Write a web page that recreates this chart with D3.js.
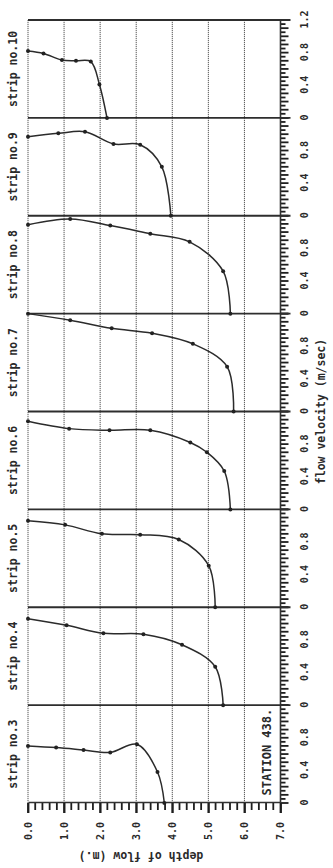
<!DOCTYPE html>
<html lang="en">
<head>
<meta charset="UTF-8">
<title>Velocity profiles - station 438</title>
<script src="https://d3js.org/d3.v7.min.js"></script>
<style>
  body { margin: 0; background: #fff; }
  text { font-family: "DejaVu Sans Mono", monospace; font-weight: bold; fill: #2a2a2a; }
</style>
</head>
<body>
<svg width="333" height="868"></svg>
<script>
// strips, left to right in the unrotated chart
const strips = ["strip no.3", "strip no.4", "strip no.5", "strip no.6",
                "strip no.7", "strip no.8", "strip no.9", "strip no.10"];

// [depth (m), velocity (m/sec)]
const strip3  = [[0, 0.70], [0.78, 0.68], [1.54, 0.65], [2.28, 0.62], [3.02, 0.72], [3.59, 0.38], [3.78, 0]];
const strip4  = [[0, 1.06], [1.07, 0.98], [2.09, 0.88], [3.20, 0.87], [4.27, 0.74], [5.19, 0.47], [5.41, 0]];
const strip5  = [[0, 1.06], [1.03, 1.01], [2.05, 0.90], [3.11, 0.89], [4.18, 0.83], [5.01, 0.51], [5.19, 0]];
const strip6  = [[0, 1.08], [1.14, 0.99], [2.26, 0.97], [3.39, 0.97], [4.50, 0.82], [4.96, 0.70], [5.44, 0.47], [5.61, 0]];
const strip7  = [[0, 1.20], [1.17, 1.12], [2.32, 1.02], [3.44, 0.96], [4.57, 0.83], [5.52, 0.55], [5.70, 0]];
const strip8  = [[0, 1.09], [1.17, 1.16], [2.28, 1.08], [3.39, 0.98], [4.48, 0.88], [5.41, 0.52], [5.61, 0]];
const strip9  = [[0, 0.97], [0.84, 1.01], [1.58, 1.03], [2.37, 0.88], [3.11, 0.87], [3.71, 0.60], [3.96, 0]];
const strip10 = [[0, 0.82], [0.43, 0.79], [0.94, 0.71], [1.33, 0.70], [1.74, 0.69], [1.98, 0.41], [2.19, 0]];
const profiles = [strip3, strip4, strip5, strip6, strip7, strip8, strip9, strip10];

const depthTicks = [0, 1, 2, 3, 4, 5, 6, 7];
const depthMinor = d3.range(0, 7.01, 0.2);
const velTicks = [0, 0.4, 0.8];
const velMinor = d3.range(0, 1.2001, 0.05);
const velMax = 1.2;

const svg = d3.select("svg");

// the scan is a landscape page turned on its side:
// draw it upright (868 x 333) and turn the group
const g = svg.append("g").attr("transform", "translate(0,868) rotate(-90)");

const plotLeft = 65, plotRight = 848, plotTop = 28, plotBottom = 280.5;

const depth = d3.scaleLinear().domain([0, 7]).range([plotTop, plotBottom]);
const band = d3.scaleBand().domain(strips).range([plotLeft, plotRight]).padding(0);
const bw = band.bandwidth();

// dotted depth grid lines (0..6)
g.selectAll("line.grid")
  .data(depthTicks.slice(0, 7))
  .enter().append("line")
  .attr("class", "grid")
  .attr("x1", plotLeft).attr("x2", plotRight)
  .attr("y1", d => depth(d)).attr("y2", d => depth(d))
  .style("stroke", "#555")
  .style("stroke-width", 1)
  .style("stroke-dasharray", "1.2,0.8");

// depth ticks every 0.2 m, longer at whole metres
g.selectAll("line.dtick")
  .data(depthMinor)
  .enter().append("line")
  .attr("class", "dtick")
  .attr("x1", plotLeft)
  .attr("x2", d => Math.abs(d - Math.round(d)) < 1e-6 ? plotLeft - 10 : plotLeft - 7)
  .attr("y1", d => depth(d)).attr("y2", d => depth(d))
  .style("stroke", "#1e1e1e")
  .style("stroke-width", 1.8);

// depth tick labels
g.append("g")
  .attr("transform", `translate(${plotLeft},0)`)
  .call(d3.axisLeft(depth).tickValues(depthTicks).tickSize(10).tickPadding(9)
    .tickFormat(d3.format(".1f")).tickSizeOuter(0))
  .call(a => {
    a.select(".domain").style("stroke", "#333").style("stroke-width", 1.6);
    a.selectAll(".tick line").style("stroke", "#1e1e1e").style("stroke-width", 1.8);
    a.selectAll("text").style("font-size", "10px").attr("font-family", null);
  });

// velocity axis for each strip
strips.forEach((s, i) => {
  const x0 = band(s);
  const vel = d3.scaleLinear().domain([0, velMax]).range([x0, x0 + bw]);

  g.selectAll(null)
    .data(velMinor)
    .enter().append("line")
    .attr("x1", d => vel(d)).attr("x2", d => vel(d))
    .attr("y1", plotBottom)
    .attr("y2", d => Math.round(d * 100) % 10 === 0 ? plotBottom + 8 : plotBottom + 5)
    .style("stroke", "#1e1e1e")
    .style("stroke-width", 1.8);

  const labels = i === strips.length - 1 ? velTicks.concat([velMax]) : velTicks;
  g.append("g")
    .attr("transform", `translate(0,${plotBottom})`)
    .call(d3.axisBottom(vel).tickValues(labels).tickSize(0).tickPadding(20)
      .tickFormat(d => d === 0 ? "0" : d3.format(".1f")(d)))
    .call(a => {
      a.select(".domain").remove();
      a.selectAll("text").style("font-size", "10px").attr("font-family", null);
    });

  // strip title
  g.append("text")
    .attr("x", x0 + bw / 2)
    .attr("y", 17)
    .attr("text-anchor", "middle")
    .style("font-size", "11.5px")
    .text(s);
});

// velocity axis line
g.append("line")
  .attr("x1", plotLeft).attr("x2", plotRight)
  .attr("y1", plotBottom).attr("y2", plotBottom)
  .style("stroke", "#333").style("stroke-width", 1.6);

// strip dividers (also the outer frame edge)
g.selectAll("line.divider")
  .data(strips.map(s => band(s)).concat([plotRight]).slice(1))
  .enter().append("line")
  .attr("class", "divider")
  .attr("x1", d => d).attr("x2", d => d)
  .attr("y1", plotTop).attr("y2", plotBottom + 10)
  .style("stroke", "#2e2e2e")
  .style("stroke-width", 1.8);

// profiles
profiles.forEach((p, i) => {
  const x0 = band(strips[i]);
  const vel = d3.scaleLinear().domain([0, velMax]).range([x0, x0 + bw]);

  const line = d3.line()
    .x(d => vel(d[1]))
    .y(d => depth(d[0]))
    .curve(d3.curveCatmullRom.alpha(0.5));

  g.append("path")
    .datum(p)
    .attr("d", line)
    .style("fill", "none")
    .style("stroke", "#2b2b2b")
    .style("stroke-width", 1.5);

  g.selectAll(null)
    .data(p)
    .enter().append("circle")
    .attr("cx", d => vel(d[1]))
    .attr("cy", d => depth(d[0]))
    .attr("r", 2)
    .style("fill", "#222");
});

// axis titles
g.append("text")
  .attr("x", (plotLeft + plotRight) / 2)
  .attr("y", 325)
  .attr("text-anchor", "middle")
  .style("font-size", "11.5px")
  .text("flow velocity (m/sec)");

g.append("text")
  .attr("transform", "translate(16,141) rotate(-90)")
  .attr("text-anchor", "middle")
  .style("font-size", "11.5px")
  .text("depth of flow (m.)");

g.append("text")
  .attr("x", band(strips[0]) + bw / 2 + 2)
  .attr("y", 271)
  .attr("text-anchor", "middle")
  .style("font-size", "12px")
  .text("STATION 438.");
</script>
</body>
</html>
